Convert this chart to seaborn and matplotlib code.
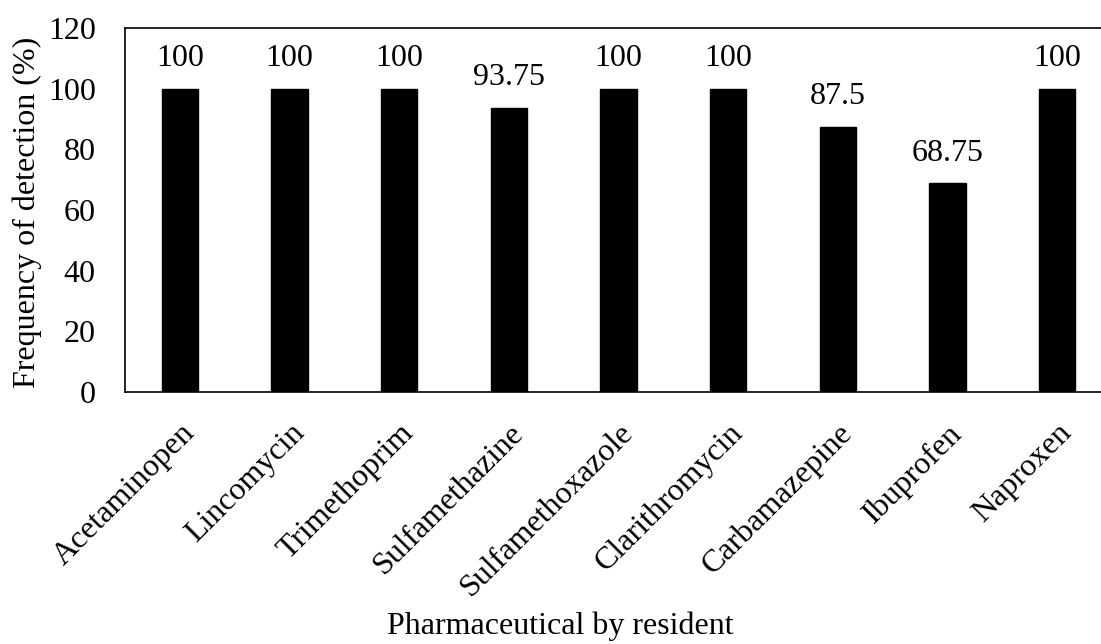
import matplotlib
matplotlib.use("Agg")
import matplotlib.pyplot as plt
import seaborn as sns
import pandas as pd

categories = ["Acetaminopen", "Lincomycin", "Trimethoprim", "Sulfamethazine",
              "Sulfamethoxazole", "Clarithromycin", "Carbamazepine", "Ibuprofen", "Naproxen"]
values = [100, 100, 100, 93.75, 100, 100, 87.5, 68.75, 100]
labels = ["100", "100", "100", "93.75", "100", "100", "87.5", "68.75", "100"]

sns.set_theme(style="white")
plt.rcParams['font.family'] = ['Liberation Serif', 'DejaVu Serif']

FS = 23
df = pd.DataFrame({"cat": categories, "val": values})
fig = plt.figure(figsize=(11.01, 6.44), dpi=100)
ax = fig.add_axes([125/1101, (644-392)/644, (1112-125)/1101, (392-28)/644])
sns.barplot(data=df, x="cat", y="val", color="black", width=0.33, ax=ax,
            saturation=1, edgecolor="black")
ax.set_xlim(-0.5, len(categories) - 0.5)
ax.set_ylim(0, 120)
ax.set_yticks(range(0, 121, 20))
for i, (v, l) in enumerate(zip(values, labels)):
    ax.text(i, v + 5, l, ha="center", va="bottom", fontsize=FS, color="black")
ax.tick_params(axis="y", length=0, labelsize=FS, colors="black", pad=21)
ax.tick_params(axis="x", length=0, labelsize=FS, colors="black", pad=19)
plt.setp(ax.get_xticklabels(), rotation=45, ha="right", rotation_mode="anchor")
ax.set_xlabel("Pharmaceutical by resident", fontsize=FS, color="black", va="center")
ax.xaxis.set_label_coords((560 - 125) / (1112 - 125), -(626 - 392) / (392 - 28))
ax.set_ylabel("Frequency of detection (%)", fontsize=FS, color="black", va="center")
ax.yaxis.set_label_coords(-(125 - 27) / (1112 - 125), (392 - 212) / (392 - 28))
for s in ["left", "bottom", "top"]:
    ax.spines[s].set_color("black")
    ax.spines[s].set_linewidth(1.2)
ax.spines["right"].set_visible(False)
fig.savefig("out.png", dpi=100)
